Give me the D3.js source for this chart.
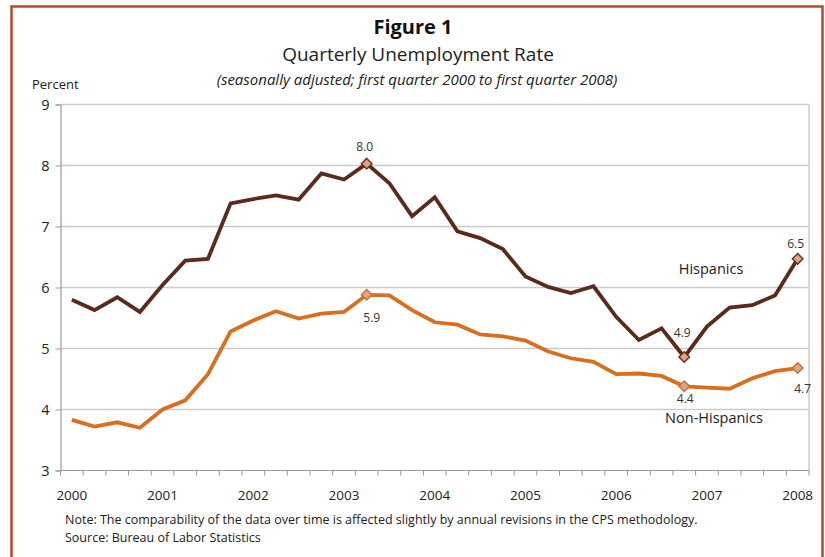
<!DOCTYPE html>
<html>
<head>
<meta charset="utf-8">
<script src="https://cdn.jsdelivr.net/npm/d3@7"></script>
<style>
  body { margin: 0; background: #fff; }
  svg { display: block; font-family: "Open Sans", sans-serif; }
</style>
</head>
<body>
<svg id="chart"></svg>
<script>
// quarterly categories, first quarter 2000 to first quarter 2008
const quarters = [
  '2000Q1', '2000Q2', '2000Q3', '2000Q4',
  '2001Q1', '2001Q2', '2001Q3', '2001Q4',
  '2002Q1', '2002Q2', '2002Q3', '2002Q4',
  '2003Q1', '2003Q2', '2003Q3', '2003Q4',
  '2004Q1', '2004Q2', '2004Q3', '2004Q4',
  '2005Q1', '2005Q2', '2005Q3', '2005Q4',
  '2006Q1', '2006Q2', '2006Q3', '2006Q4',
  '2007Q1', '2007Q2', '2007Q3', '2007Q4',
  '2008Q1'
]

const hispanics = [5.80, 5.63, 5.84, 5.60, 6.04, 6.44, 6.47, 7.38, 7.45, 7.51, 7.44,
  7.87, 7.77, 8.03, 7.71, 7.17, 7.48, 6.92, 6.81, 6.63, 6.18, 6.01, 5.91, 6.02,
  5.52, 5.14, 5.33, 4.86, 5.36, 5.67, 5.71, 5.87, 6.47]

const nonHispanics = [3.83, 3.72, 3.79, 3.70, 4.00, 4.15, 4.58, 5.28, 5.46, 5.61, 5.49,
  5.57, 5.60, 5.88, 5.87, 5.63, 5.43, 5.39, 5.23, 5.20, 5.13, 4.95, 4.84, 4.78,
  4.58, 4.59, 4.55, 4.38, 4.36, 4.34, 4.51, 4.63, 4.68]

const yearLabels = ['2000', '2001', '2002', '2003', '2004', '2005', '2006', '2007', '2008']
const yTicks = [3, 4, 5, 6, 7, 8, 9]

// highlighted points and their labels
const markedQuarters = ['2003Q2', '2006Q4', '2008Q1']
const hispLabels = ['8.0', '4.9', '6.5']
const nonHispLabels = ['5.9', '4.4', '4.7']

const width = 825
const height = 557

const svg = d3.select('#chart')
  .attr('width', width)
  .attr('height', height)

// outer frame
svg.append('rect')
  .attr('x', 11.5)
  .attr('y', 6.5)
  .attr('width', 811)
  .attr('height', 570)
  .attr('fill', 'none')
  .attr('stroke', '#b9482a')
  .attr('stroke-width', 2.5)

// titles
svg.append('text')
  .attr('x', 413).attr('y', 34)
  .attr('text-anchor', 'middle')
  .attr('font-size', '20px')
  .attr('font-weight', 'bold')
  .attr('fill', '#111')
  .text('Figure 1')

svg.append('text')
  .attr('x', 418).attr('y', 61)
  .attr('text-anchor', 'middle')
  .attr('font-size', '19px')
  .attr('fill', '#222')
  .text('Quarterly Unemployment Rate')

svg.append('text')
  .attr('x', 417).attr('y', 85)
  .attr('text-anchor', 'middle')
  .attr('font-size', '15px')
  .attr('font-style', 'italic')
  .attr('fill', '#222')
  .text('(seasonally adjusted; first quarter 2000 to first quarter 2008)')

svg.append('text')
  .attr('x', 32).attr('y', 89)
  .attr('font-size', '13px')
  .attr('fill', '#222')
  .text('Percent')

// scales
const x = d3.scalePoint()
  .domain(quarters)
  .range([60.5, 809])
  .padding(0.5)

const y = d3.scaleLinear()
  .domain([3, 9])
  .range([470.5, 104.5])

const left = 60.5
const right = 809
const step = x.step()

// gridlines
svg.append('g')
  .selectAll('line')
  .data(yTicks.filter(d => d > 3))
  .join('line')
  .attr('x1', left)
  .attr('x2', right)
  .attr('y1', d => y(d))
  .attr('y2', d => y(d))
  .attr('stroke', '#cbcbcb')
  .attr('stroke-width', 1.5)

// right border of plot area
svg.append('line')
  .attr('x1', right).attr('x2', right)
  .attr('y1', y(9)).attr('y2', y(3))
  .attr('stroke', '#cbcbcb')
  .attr('stroke-width', 1.5)

// y axis
const yAxis = svg.append('g')
  .attr('transform', `translate(${left},0)`)
  .call(d3.axisLeft(y).tickValues(yTicks).tickSize(5).tickPadding(6).tickFormat(d3.format('d')))
yAxis.select('.domain').attr('stroke', '#999').attr('stroke-width', 1.2)
yAxis.selectAll('.tick line').attr('stroke', '#999')
yAxis.selectAll('.tick text')
  .attr('font-size', '14.5px')
  .attr('font-family', '"Open Sans", sans-serif')
  .attr('fill', '#222')

// x axis: ticks at quarter boundaries, year labels under first quarters
const xAxis = svg.append('g')
  .attr('transform', `translate(0,${y(3)})`)
xAxis.append('line')
  .attr('x1', left).attr('x2', right)
  .attr('stroke', '#999')
  .attr('stroke-width', 1.2)
xAxis.selectAll('line.qtick')
  .data(quarters.concat(['end']))
  .join('line')
  .attr('class', 'qtick')
  .attr('x1', (d, i) => left + i * step)
  .attr('x2', (d, i) => left + i * step)
  .attr('y1', 0)
  .attr('y2', 5)
  .attr('stroke', '#999')
xAxis.selectAll('text')
  .data(yearLabels)
  .join('text')
  .attr('x', d => x(d + 'Q1'))
  .attr('y', 29)
  .attr('text-anchor', 'middle')
  .attr('font-size', '13.5px')
  .attr('fill', '#222')
  .text(d => d)

// lines
const series = [
  { name: 'Hispanics', values: hispanics, color: '#5b2a1b', labels: hispLabels },
  { name: 'Non-Hispanics', values: nonHispanics, color: '#d86f1f', labels: nonHispLabels }
]

const line = d3.line()
  .x((d, i) => x(quarters[i]))
  .y(d => y(d))

series.forEach(s => {
  svg.append('path')
    .datum(s.values)
    .attr('d', line)
    .attr('fill', 'none')
    .attr('stroke', s.color)
    .attr('stroke-width', 3.8)
    .attr('stroke-linejoin', 'miter')
})

// diamond markers
const diamond = d3.symbol().type(d3.symbolDiamond2).size(70)
series.forEach(s => {
  svg.append('g')
    .selectAll('path')
    .data(markedQuarters)
    .join('path')
    .attr('d', diamond)
    .attr('transform', q => `translate(${x(q)},${y(s.values[quarters.indexOf(q)])})`)
    .attr('fill', '#dca681')
    .attr('stroke', s.name === 'Hispanics' ? '#6b3322' : '#c8703a')
    .attr('stroke-width', 1.5)
})

// value labels: offsets relative to the marker
const hispOffsets = [[-2, -13], [-2, -20], [-2, -11]]
const nonHispOffsets = [[5, 27], [1, 17], [5, 25]]

function valueLabels(s, offsets) {
  svg.append('g')
    .selectAll('text')
    .data(markedQuarters)
    .join('text')
    .attr('x', (q, i) => x(q) + offsets[i][0])
    .attr('y', (q, i) => y(s.values[quarters.indexOf(q)]) + offsets[i][1])
    .attr('text-anchor', 'middle')
    .attr('font-size', '12px')
    .attr('fill', '#333')
    .text((q, i) => s.labels[i])
}
valueLabels(series[0], hispOffsets)
valueLabels(series[1], nonHispOffsets)

// series names
svg.append('text')
  .attr('x', 711).attr('y', 274)
  .attr('text-anchor', 'middle')
  .attr('font-size', '14.5px')
  .attr('fill', '#222')
  .text('Hispanics')

svg.append('text')
  .attr('x', 714).attr('y', 423)
  .attr('text-anchor', 'middle')
  .attr('font-size', '14.5px')
  .attr('fill', '#222')
  .text('Non-Hispanics')

// footnotes
svg.append('text')
  .attr('x', 65).attr('y', 524)
  .attr('font-size', '12.5px')
  .attr('fill', '#222')
  .text('Note: The comparability of the data over time is affected slightly by annual revisions in the CPS methodology.')

svg.append('text')
  .attr('x', 65).attr('y', 542)
  .attr('font-size', '12.5px')
  .attr('fill', '#222')
  .text('Source: Bureau of Labor Statistics')
</script>
</body>
</html>
